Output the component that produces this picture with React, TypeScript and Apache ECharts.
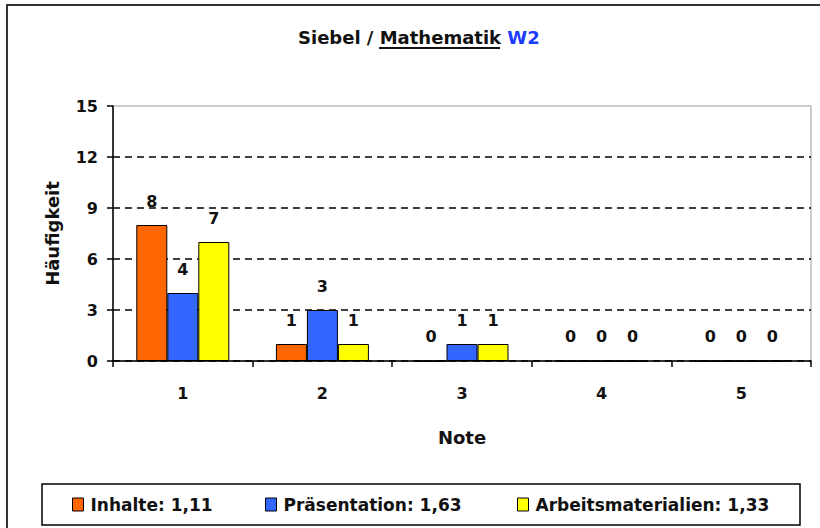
import React, { useEffect, useRef } from "react";
import * as echarts from "echarts";

const categories = ["1", "2", "3", "4", "5"];
const seriesNames = ["Inhalte: 1,11", "Präsentation: 1,63", "Arbeitsmaterialien: 1,33"];
const inhalte = [8, 1, 0, 0, 0];
const praesentation = [4, 3, 1, 0, 0];
const arbeitsmaterialien = [7, 1, 1, 0, 0];
const colors = ["#FF6600", "#3366FF", "#FFFF00"];
const yTicks = { min: 0, max: 15, interval: 3 };

const FONT = "DejaVu Sans";

export default function App() {
  const ref = useRef<HTMLDivElement>(null);
  useEffect(() => {
    if (!ref.current) return;
    const chart = echarts.init(ref.current, null, { renderer: "svg" });
    const values = [inhalte, praesentation, arbeitsmaterialien];
    const legendLefts = [67, 260, 512];
    const option: any = {
      animation: false,
      backgroundColor: "#fff",
      textStyle: { fontFamily: FONT },
      title: {
        text: "{a|Siebel / }{b|Mathematik}{a| }{c|W2}",
        left: 298,
        top: 28,
        padding: 0,
        textStyle: {
          rich: {
            a: { fontFamily: FONT, fontWeight: "bold", fontSize: 18, color: "#111" },
            b: { fontFamily: FONT, fontWeight: "bold", fontSize: 18, color: "#111" },
            c: { fontFamily: FONT, fontWeight: "bold", fontSize: 18, color: "#1a3cff" },
          },
        },
      },
      legend: seriesNames.map((n, i) => ({
        data: [n],
        left: legendLefts[i],
        top: 491,
        icon: "rect",
        itemWidth: 11,
        itemHeight: 13,
        itemStyle: { borderColor: "#000", borderWidth: 1 },
        selectedMode: false,
        textStyle: { fontFamily: FONT, fontWeight: "bold", fontSize: 17, color: "#111", padding: [0, 0, 0, 2] },
      })),
      grid: {
        left: 113,
        right: 9,
        top: 106,
        bottom: 167,
        show: true,
        borderColor: "#9a9a9a",
        borderWidth: 1,
        backgroundColor: "transparent",
      },
      xAxis: {
        type: "category",
        data: categories,
        name: "Note",
        nameLocation: "middle",
        nameGap: 67,
        nameTextStyle: { fontFamily: FONT, fontWeight: "bold", fontSize: 18, color: "#111" },
        axisLine: { lineStyle: { color: "#000", width: 1.5 } },
        axisTick: { show: true, length: 6, lineStyle: { color: "#000", width: 1.5 } },
        axisLabel: { fontFamily: FONT, fontWeight: "bold", fontSize: 16, color: "#111", margin: 24 },
        splitLine: { show: false },
      },
      yAxis: {
        type: "value",
        min: yTicks.min,
        max: yTicks.max,
        interval: yTicks.interval,
        name: "Häufigkeit",
        nameLocation: "middle",
        nameGap: 52,
        nameRotate: 90,
        nameTextStyle: { fontFamily: FONT, fontWeight: "bold", fontSize: 18, color: "#111" },
        axisLine: { show: true, lineStyle: { color: "#000", width: 1.5 } },
        axisTick: { show: true, length: 6, lineStyle: { color: "#000", width: 1.5 } },
        axisLabel: { fontFamily: FONT, fontWeight: "bold", fontSize: 16, color: "#111", margin: 15 },
        splitLine: {
          show: true,
          lineStyle: {
            color: ["#000", "#000", "#000", "#000", "#000", "rgba(0,0,0,0)"],
            width: 1.5,
            type: [7, 5],
          },
        },
      },
      series: seriesNames.map((n, i) => ({
        name: n,
        type: "bar",
        data: values[i],
        barWidth: 31,
        barGap: "0%",
        itemStyle: { color: colors[i], borderColor: "#000", borderWidth: 1 },
        label: {
          show: true,
          position: "top",
          distance: 16,
          fontFamily: FONT,
          fontWeight: "bold",
          fontSize: 16,
          color: "#111",
        },
      })),
      graphic: [
        {
          type: "rect",
          shape: { x: 7, y: 5, width: 900, height: 700 },
          style: { fill: "none", stroke: "#333", lineWidth: 2 },
          silent: true,
        },
        {
          type: "rect",
          shape: { x: 42, y: 484, width: 758, height: 41 },
          style: { fill: "none", stroke: "#000", lineWidth: 1.5 },
          silent: true,
        },
        {
          type: "line",
          shape: { x1: 379, y1: 48, x2: 500, y2: 48 },
          style: { stroke: "#111", lineWidth: 1.8 },
          silent: true,
        },
      ],
    };
    chart.setOption(option);
    return () => chart.dispose();
  }, []);
  return (
    <div
      ref={ref}
      style={{ position: "fixed", left: 0, top: 0, width: 820, height: 528 }}
    />
  );
}
